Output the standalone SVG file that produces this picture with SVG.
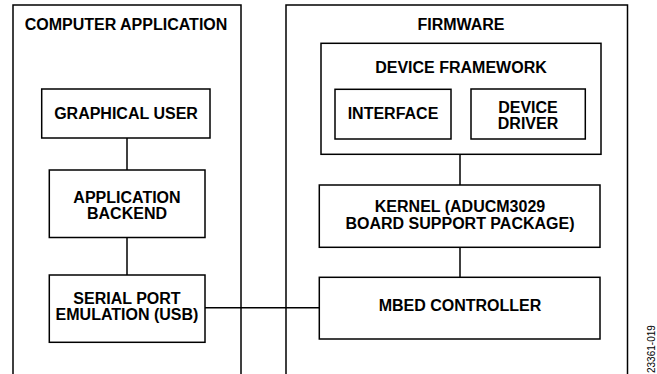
<svg xmlns="http://www.w3.org/2000/svg" width="657" height="374" viewBox="0 0 657 374">
<style>
.box{fill:#fff;stroke:#000;stroke-width:1.5}
.frame{fill:none;stroke:#000;stroke-width:1.5}
.t{font-family:"Liberation Sans",Arial,sans-serif;font-weight:bold;font-size:16px;fill:#000;text-anchor:middle}
.con{stroke:#000;stroke-width:1.5;fill:none}
.id{font-family:"Liberation Sans",Arial,sans-serif;font-size:10px;fill:#000}
</style>
<rect width="657" height="374" fill="#fff"/>
<g id="computer-application">
<rect class="frame" x="13" y="5" width="228" height="380"/>
<text class="t" x="126" y="30">COMPUTER APPLICATION</text>
</g>
<g id="firmware">
<rect class="frame" x="286" y="5" width="341.5" height="380"/>
<text class="t" x="461" y="29.5">FIRMWARE</text>
</g>
<g id="connectors">
<line class="con" x1="127" y1="138" x2="127" y2="170"/>
<line class="con" x1="127" y1="237.5" x2="127" y2="275"/>
<line class="con" x1="205" y1="307.7" x2="319.5" y2="307.7"/>
<line class="con" x1="460" y1="154.5" x2="460" y2="185"/>
<line class="con" x1="460" y1="247.5" x2="460" y2="277.5"/>
</g>
<g id="graphical-user">
<rect class="box" x="41.7" y="89" width="168.3" height="49"/>
<text class="t" x="126" y="119">GRAPHICAL USER</text>
</g>
<g id="application-backend">
<rect class="box" x="49.3" y="170" width="155.7" height="67.5"/>
<text class="t" x="127" y="203.3">APPLICATION</text>
<text class="t" x="127" y="219">BACKEND</text>
</g>
<g id="serial-port">
<rect class="box" x="49.3" y="275" width="155.7" height="67.3"/>
<text class="t" x="127" y="304">SERIAL PORT</text>
<text class="t" x="127" y="320">EMULATION (USB)</text>
</g>
<g id="device-framework">
<rect class="box" x="321" y="43.3" width="280" height="111"/>
<text class="t" x="461" y="72.7">DEVICE FRAMEWORK</text>
</g>
<g id="interface">
<rect class="box" x="335" y="89.3" width="116" height="49.7"/>
<text class="t" x="393" y="119">INTERFACE</text>
</g>
<g id="device-driver">
<rect class="box" x="471" y="89" width="114.3" height="50"/>
<text class="t" x="528" y="113.3">DEVICE</text>
<text class="t" x="528" y="129">DRIVER</text>
</g>
<g id="kernel">
<rect class="box" x="319.3" y="185" width="280.7" height="62.3"/>
<text class="t" x="460" y="212.3">KERNEL (ADUCM3029</text>
<text class="t" x="460" y="229">BOARD SUPPORT PACKAGE)</text>
</g>
<g id="mbed-controller">
<rect class="box" x="319.3" y="277.3" width="280.7" height="61.7"/>
<text class="t" x="460" y="310.7">MBED CONTROLLER</text>
</g>
<text class="id" transform="translate(655,373) rotate(-90)">23361-019</text>
</svg>
